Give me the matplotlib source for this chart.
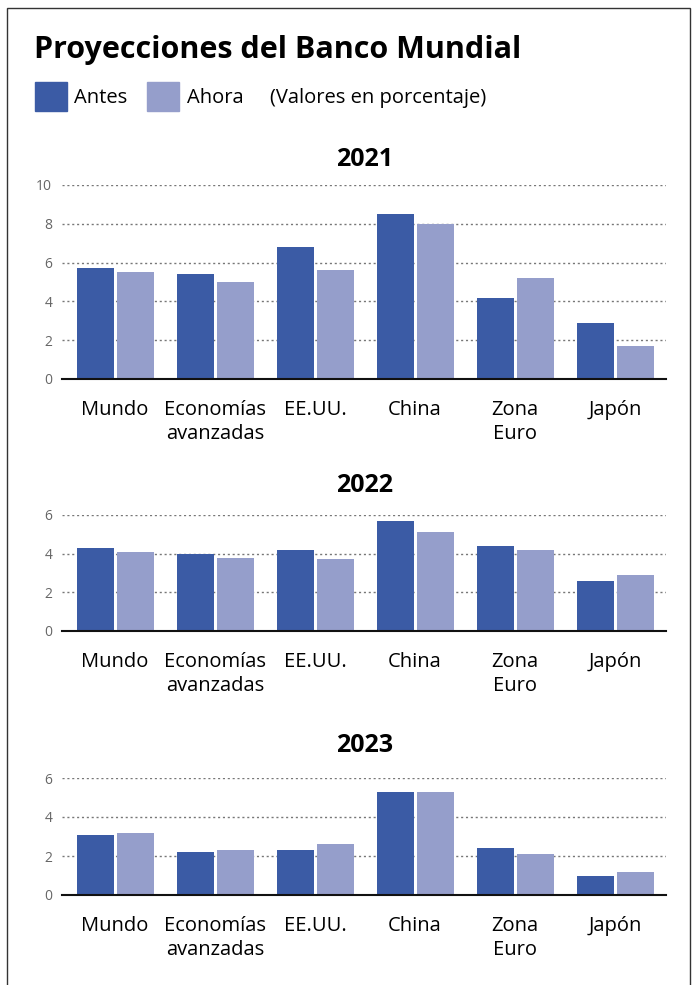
import matplotlib
matplotlib.use('agg')
import matplotlib.pyplot as plt
from matplotlib.patches import Rectangle
import numpy as np

plt.rcParams['font.family'] = ['Open Sans', 'DejaVu Sans']

regiones = ['Mundo', 'Economías\navanzadas', 'EE.UU.', 'China', 'Zona\nEuro', 'Japón']
anios = ['2021', '2022', '2023']
antes = {
    '2021': [5.7, 5.4, 6.8, 8.5, 4.2, 2.9],
    '2022': [4.3, 4.0, 4.2, 5.7, 4.4, 2.6],
    '2023': [3.1, 2.2, 2.3, 5.3, 2.4, 1.0],
}
ahora = {
    '2021': [5.5, 5.0, 5.6, 8.0, 5.2, 1.7],
    '2022': [4.1, 3.8, 3.7, 5.1, 4.2, 2.9],
    '2023': [3.2, 2.3, 2.6, 5.3, 2.1, 1.2],
}
ymax = {'2021': 10, '2022': 6, '2023': 6}

C_ANTES = '#3b5ba5'
C_AHORA = '#959ecb'

W, H = 697, 985
fig = plt.figure(figsize=(W / 100, H / 100), dpi=100)

def px(x0, y0, x1, y1):
    # pixel box (top-left origin) -> figure fraction
    return [x0 / W, 1 - y1 / H, (x1 - x0) / W, (y1 - y0) / H]

# outer frame
fig.patches.append(Rectangle((7 / W, -0.01), (683 / W), 1 - 8 / H + 0.01,
                             transform=fig.transFigure, fill=False,
                             edgecolor='#333333', linewidth=1))

fig.text(34 / W, 1 - 50 / H, 'Proyecciones del Banco Mundial', fontsize=22,
         fontweight='bold', va='center', ha='left')

# legend
fig.patches.append(Rectangle((35 / W, 1 - 111 / H), 32 / W, 29 / H,
                             transform=fig.transFigure, color=C_ANTES))
fig.text(74 / W, 1 - 98 / H, 'Antes', fontsize=14.5, va='center')
fig.patches.append(Rectangle((147 / W, 1 - 111 / H), 32 / W, 29 / H,
                             transform=fig.transFigure, color=C_AHORA))
fig.text(187 / W, 1 - 98 / H, 'Ahora', fontsize=14.5, va='center')
fig.text(270 / W, 1 - 98 / H, '(Valores en porcentaje)', fontsize=14.5, va='center')

paneles = {'2021': (185, 379, 160), '2022': (515, 631, 485), '2023': (778, 895, 746)}

x = np.arange(len(regiones))
for anio in anios:
    top, bot, ty = paneles[anio]
    ax = fig.add_axes(px(62, top, 666, bot))
    ax.bar(x - 0.2, antes[anio], width=0.37, color=C_ANTES, zorder=3)
    ax.bar(x + 0.2, ahora[anio], width=0.37, color=C_AHORA, zorder=3)
    ax.set_xlim(-0.53, 5.51)
    ax.set_ylim(0, ymax[anio])
    ax.set_yticks(np.arange(0, ymax[anio] + 1, 2))
    ax.set_xticks(x)
    ax.set_xticklabels(regiones, fontsize=14.5, linespacing=1.3)
    ax.tick_params(axis='x', length=0, pad=15)
    ax.tick_params(axis='y', length=0, pad=7, labelsize=10, labelcolor='#666666')
    for s in ['top', 'right', 'left']:
        ax.spines[s].set_visible(False)
    ax.spines['bottom'].set_color('#111111')
    ax.spines['bottom'].set_linewidth(1.5)
    ax.spines['bottom'].set_zorder(4)
    ax.yaxis.grid(True, linestyle=(0, (1.5, 2)), color='#777777', linewidth=1)
    ax.set_axisbelow(True)
    fig.text(365 / W, 1 - ty / H, anio, fontsize=18, fontweight='bold',
             ha='center', va='center')

fig.savefig('out.png', dpi=100)
